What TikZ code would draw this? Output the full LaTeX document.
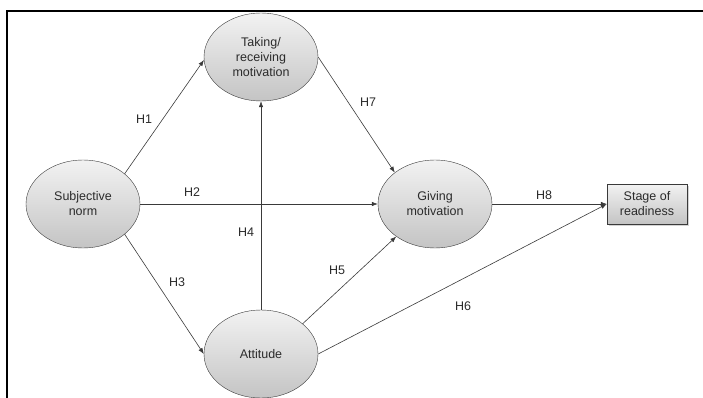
\documentclass[tikz,border=0pt]{standalone}
\usepackage{fontspec}
\setmainfont{Liberation Sans}
\usetikzlibrary{arrows.meta,positioning,shapes.geometric,shadows}
\definecolor{inkgray}{HTML}{2B2B2B}
\definecolor{edgegray}{HTML}{3A3A3A}
\definecolor{filltop}{HTML}{F2F2F2}
\definecolor{fillbot}{HTML}{C4C4C4}
\tikzset{
  latent/.style={
    ellipse,
    draw=edgegray,
    thin,
    top color=filltop,
    bottom color=fillbot,
    align=center,
    inner sep=0pt,
    minimum width=114pt,
    minimum height=88pt,
    text=inkgray,
    font=\fontsize{12.5}{15}\selectfont
  },
  outcome/.style={
    rectangle,
    draw=edgegray,
    thin,
    top color=filltop,
    bottom color=fillbot,
    align=center,
    inner sep=0pt,
    minimum width=80pt,
    minimum height=40pt,
    text=inkgray,
    font=\fontsize{12.5}{15}\selectfont,
    drop shadow={opacity=0.35,shadow xshift=1.5pt,shadow yshift=-1.5pt}
  },
  hlab/.style={text=inkgray,font=\fontsize{12.5}{14}\selectfont,inner sep=1pt},
  arrow/.style={-{Latex[length=6pt,width=4.5pt]},draw=edgegray,line width=0.6pt},
  frame/.style={line width=2.4pt,draw=black}
}
\begin{document}
\begin{tikzpicture}[x=1pt,y=-1pt]
    \useasboundingbox (0,0) rectangle (703,398);
    \draw[frame] (703,11) -- (7,11) -- (7,398);

    \node[latent] (subj) at (83,204) {Subjective\\norm};
    \node[latent] (take) at (261,57) {Taking/\\receiving\\motivation};
    \node[latent] (give) at (435,204) {Giving\\motivation};
    \node[latent] (att) at (261,354) {Attitude};
    \node[outcome] (stage) at (647,204) {Stage of\\readiness};

    \draw[arrow] (subj.36) -- (take.183);
    \draw[arrow] (subj.east) -- (give.west);
    \draw[arrow] (subj.-36) -- (att.west);
    \draw[arrow] (att.north) -- (take.south);
    \draw[arrow] (att.36) -- (give.220);
    \draw[arrow] (att.east) -- (stage.west);
    \draw[arrow] (take.east) -- (give.142);
    \draw[arrow] (give.east) -- (stage.west);

    \node[hlab] (h1) at (144,119) {H1};
    \node[hlab] (h2) at (192,192) {H2};
    \node[hlab] (h3) at (177,282) {H3};
    \node[hlab] (h4) at (246,232) {H4};
    \node[hlab] (h5) at (337,270) {H5};
    \node[hlab] (h6) at (463,306) {H6};
    \node[hlab] (h7) at (368,102) {H7};
    \node[hlab] (h8) at (544,195) {H8};
  \end{tikzpicture}
\end{document}
